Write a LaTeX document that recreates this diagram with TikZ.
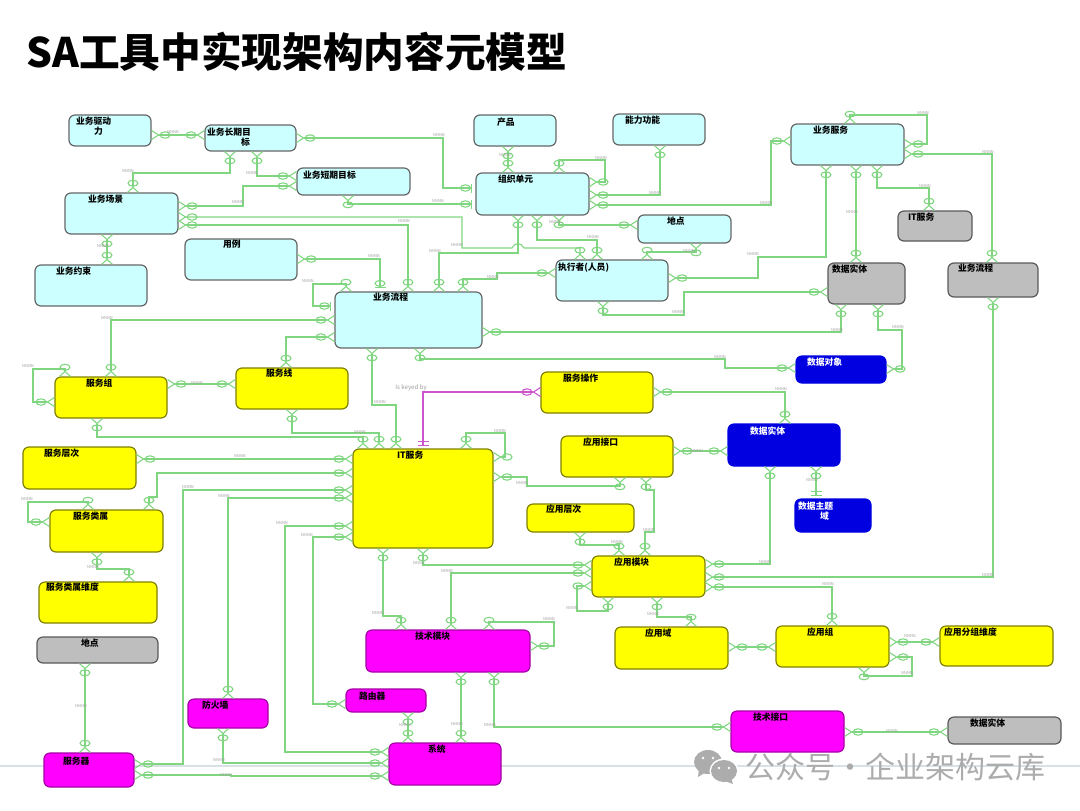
\documentclass[tikz,border=0pt]{standalone}
\usepackage{fontspec}
\setmainfont{Noto Sans CJK SC}
\usepackage{xcolor}
\usetikzlibrary{arrows.meta,positioning}
\newlength{\pxu}
\setlength{\pxu}{0.75pt}
\definecolor{relgreen}{RGB}{128,214,128}
\definecolor{relpink}{RGB}{204,84,204}
\definecolor{entcyan}{RGB}{204,255,255}
\definecolor{entgray}{RGB}{190,190,190}
\definecolor{entblue}{RGB}{0,0,225}
\definecolor{entmag}{RGB}{255,0,255}
\definecolor{entyel}{RGB}{255,255,0}
\definecolor{markgray}{RGB}{172,172,172}
\definecolor{rulegray}{RGB}{214,226,232}
\tikzset{
  % the ellipses are flat in both directions, so there is one tip per direction
  Crow/.tip={Circle[open,length=8.25pt,width=5.6pt,sep=0pt]Straight Barb[reversed,length=5.25pt,width=6.75pt,sep=0pt]},
  vCrow/.tip={Circle[open,length=5.25pt,width=8.25pt,sep=0pt]Straight Barb[reversed,length=3.75pt,width=8.25pt,sep=0pt]},
  OneBar/.tip={Circle[open,length=8.25pt,width=5.6pt,sep=0pt]Bar[width=6.75pt,sep=3pt]},
  vOneBar/.tip={Circle[open,length=5.25pt,width=8.25pt,sep=0pt]Bar[width=8.25pt,sep=3pt]},
  TwoBar/.tip={Bar[width=8.25pt,sep=2.25pt]Bar[width=8.25pt,sep=2.25pt]},
  rel/.style={draw=relgreen,line width=1.1\pxu,{Crow}-{Crow}},
  hv/.style={{Crow}-{vCrow}},
  vh/.style={{vCrow}-{Crow}},
  vv/.style={{vCrow}-{vCrow}},
  ent/.style n args={4}{anchor=north west,inner sep=0pt,outer sep=0pt,rounded corners=6\pxu,
    line width=1.2\pxu,font=\fontsize{6.6}{7.5}\selectfont\bfseries,align=left,
    text width=#1\pxu,minimum width=#1\pxu,minimum height=#2\pxu,
    text height=#4\pxu,text depth={(#2-#4)*\pxu},execute at begin node={\hspace*{#3\pxu}}},
  cyan node/.style={draw=black!60,fill=entcyan,text=black},
  gray node/.style={draw=black!65,fill=entgray,text=black},
  blue node/.style={draw=entblue,fill=entblue,text=white},
  yellow node/.style={draw=black!50!entyel,fill=entyel,text=black},
  magenta node/.style={draw=black!35!entmag,fill=entmag,text=black},
  tag/.style={font=\fontsize{3}{3}\selectfont,text=black!38,inner sep=0pt},
}
\begin{document}
\begin{tikzpicture}[x=0.75pt,y=-0.75pt]
\useasboundingbox (0,0) rectangle (1080,810);
\coordinate (ruleL) at (0,766);
\coordinate (ruleR) at (1080,766);
\draw[line width=1.2\pxu,draw=rulegray] (ruleL) -- (ruleR);
\node[anchor=west,inner sep=0pt,font=\fontsize{30.5}{34}\selectfont\bfseries] (title) at (26,52) {SA工具中实现架构内容元模型};

% top row, light blue
\node[cyan node,ent={82}{31}{7}{9.5}] (drv) at (69,115) {业务驱动\\\hspace*{25\pxu}力};
\node[cyan node,ent={91}{26}{2}{10.5}] (longgoal) at (205,125) {业务长期目\\\hspace*{36\pxu}标};
\node[cyan node,ent={113}{27}{6}{10.5}] (shortgoal) at (297,168) {业务短期目标};
\node[cyan node,ent={113}{41}{23}{9.5}] (scene) at (65,193) {业务场景};
\node[cyan node,ent={112}{41}{21}{9.5}] (limit) at (35,265) {业务约束};
\node[cyan node,ent={112}{41}{38}{8.5}] (usecase) at (185,239) {用例};
\node[cyan node,ent={82}{31}{23}{10}] (product) at (474,115) {产品};
\node[cyan node,ent={92}{31}{12}{9.5}] (ability) at (613,114) {能力功能};
\node[cyan node,ent={113}{42}{22}{9.5}] (org) at (476,173) {组织单元};
\node[cyan node,ent={93}{28}{29}{9}] (site) at (638,215) {地点};
\node[cyan node,ent={112}{41}{2}{10}] (actor) at (556,260) {执行者(人员)};
\node[cyan node,ent={147}{56}{38}{8.5}] (process) at (335,292) {业务流程};
\node[cyan node,ent={113}{41}{22}{9.5}] (bizsvc) at (791,124) {业务服务};
\node[gray node,ent={74}{30}{10}{9}] (itref) at (898,211) {IT服务};
\node[gray node,ent={77}{41}{4}{9.5}] (dataref) at (828,263) {数据实体};
\node[gray node,ent={90}{34}{10}{8.5}] (procref) at (948,263) {业务流程};
\node[blue node,ent={90}{27}{11}{9}] (dataobj) at (796,356) {数据对象};
\node[blue node,ent={112}{42}{22}{10}] (dataent) at (728,424) {数据实体};
\node[blue node,ent={76}{33}{3}{10}] (datadom) at (795,499) {数据主题\\\hspace*{25\pxu}域};

% services and applications, yellow
\node[yellow node,ent={112}{41}{31}{9}] (svcgrp) at (55,377) {服务组};
\node[yellow node,ent={112}{41}{30}{8.5}] (svcline) at (236,368) {服务线};
\node[yellow node,ent={113}{42}{21}{9.5}] (svclevel) at (23,447) {服务层次};
\node[yellow node,ent={113}{42}{23}{9.5}] (svccls) at (50,510) {服务类属};
\node[yellow node,ent={118}{41}{7}{8.5}] (svcdim) at (39,582) {服务类属维度};
\node[yellow node,ent={140}{99}{44}{9.5}] (itsvc) at (353,449) {IT服务};
\node[yellow node,ent={112}{41}{22}{9.5}] (svcop) at (541,372) {服务操作};
\node[yellow node,ent={112}{41}{22}{9.5}] (appif) at (561,436) {应用接口};
\node[yellow node,ent={107}{28}{19}{8.5}] (applev) at (527,504) {应用层次};
\node[yellow node,ent={113}{41}{22}{9.5}] (appmod) at (592,556) {应用模块};
\node[yellow node,ent={113}{42}{30}{9.5}] (appdom) at (615,627) {应用域};
\node[yellow node,ent={113}{41}{31}{9}] (appgrp) at (776,626) {应用组};
\node[yellow node,ent={113}{40}{4}{9}] (appdim) at (940,626) {应用分组维度};

% infrastructure, magenta
\node[gray node,ent={121}{26}{44}{9}] (siteref) at (37,637) {地点};
\node[gray node,ent={113}{27}{22}{9.5}] (dataext) at (948,717) {数据实体};
\node[magenta node,ent={90}{34}{19}{11}] (server) at (44,753) {服务器};
\node[magenta node,ent={80}{29}{14}{9.5}] (fw) at (188,699) {防火墙};
\node[magenta node,ent={80}{23}{13}{10.5}] (router) at (346,689) {路由器};
\node[magenta node,ent={164}{42}{49}{9.5}] (tech) at (366,630) {技术模块};
\node[magenta node,ent={112}{42}{39}{9.5}] (system) at (389,743) {系统};
\node[magenta node,ent={113}{41}{22}{9}] (techif) at (731,711) {技术接口};

% upper connectors
\draw[rel] (drv.east |- 0,135) -- (longgoal.west |- 0,135);
\draw[rel,{Crow}-{OneBar}] (longgoal.east |- 0,138) -- (443,138) -- (443,188) -- (org.west |- 0,188);
\draw[rel,vv] (longgoal.south -| 230,0) -- (230,173) -- (133,173) -- (scene.north -| 133,0);
\draw[rel,vh] (longgoal.south -| 257,0) -- (257,176) -- (shortgoal.west |- 0,176);
\draw[rel] (scene.east |- 0,206) -- (243,206) -- (243,186) -- (shortgoal.west |- 0,186);
\draw[rel,{vCrow}-{OneBar}] (shortgoal.south -| 348,0) -- (348,204) -- (org.west |- 0,204);
\draw[rel,hv] (scene.east |- 0,217) -- (462,217) -- (462,248) -- (512,248) .. controls (515,242) and (521,242) .. (524,248) -- (580,248) -- (actor.north -| 580,0);
\draw[rel,hv] (scene.east |- 0,225) -- (408,225) -- (process.north -| 408,0);
\draw[rel,{Crow}-{vOneBar}] (usecase.east |- 0,259) -- (380,259) -- (process.north -| 380,0);
\draw[rel,vv] (process.north -| 439,0) -- (439,253) -- (518,253) -- (org.south -| 518,0);
\draw[rel,vh] (process.north -| 463,0) -- (463,279) -- (497,279) -- (497,273) -- (actor.west |- 0,273);
\draw[rel,{vCrow}-{OneBar}] (process.north -| 346,0) -- (346,284) -- (313,284) -- (313,306) -- (process.west |- 0,306);
\draw[rel,hv] (process.west |- 0,320) -- (111,320) -- (svcgrp.north -| 111,0);
\draw[rel,hv] (process.west |- 0,337) -- (286,337) -- (svcline.north -| 286,0);
\draw[rel,hv] (process.east |- 0,332) -- (841,332) -- (dataref.south -| 841,0);
\draw[rel,vh] (process.south -| 420,0) -- (420,359) -- (725,359) -- (725,368) -- (dataobj.west |- 0,368);
\draw[rel,vv] (process.south -| 372,0) -- (372,405) -- (396,405) -- (itsvc.north -| 396,0);
\draw[rel,vv] (scene.south -| 107,0) -- (limit.north -| 107,0);
\draw[rel,vv] (org.south -| 537,0) -- (537,240) -- (597,240) -- (actor.north -| 597,0);
\draw[rel,vh] (org.south -| 559,0) -- (559,225) -- (site.west |- 0,225);
\draw[rel,vv] (product.south -| 508,0) -- (org.north -| 508,0);
\draw[rel,hv] (org.east |- 0,195) -- (660,195) -- (ability.south -| 660,0);
\draw[rel,hv] (org.east |- 0,182) -- (605,182) -- (605,160) -- (559,160) -- (org.north -| 559,0);
\draw[rel] (org.east |- 0,205) -- (771,205) -- (771,141) -- (bizsvc.west |- 0,141);
\draw[rel,vv] (site.south -| 696,0) -- (696,252) -- (647,252) -- (actor.north -| 647,0);
\draw[rel,hv] (actor.east |- 0,278) -- (758,278) -- (758,257) -- (826,257) -- (bizsvc.south -| 826,0);
\draw[rel,vh] (actor.south -| 603,0) -- (603,315) -- (684,315) -- (684,292) -- (dataref.west |- 0,292);
\draw[rel,vh] (bizsvc.north -| 850,0) -- (850,115) -- (927,115) -- (927,144) -- (bizsvc.east |- 0,144);
\draw[rel,hv] (bizsvc.east |- 0,154) -- (992,154) -- (procref.north -| 992,0);
\draw[rel,vv] (bizsvc.south -| 856,0) -- (dataref.north -| 856,0);
\draw[rel,vv] (bizsvc.south -| 877,0) -- (877,188) -- (929,188) -- (itref.north -| 929,0);
\draw[rel,vh] (dataref.south -| 878,0) -- (878,330) -- (902,330) -- (902,369) -- (dataobj.east |- 0,369);

% around the IT service
\draw[rel,draw=relpink,{Crow}-{TwoBar}] (svcop.west |- 0,392) -- (423,392) -- (itsvc.north -| 423,0);
\draw[rel,vh] (itsvc.north -| 466,0) -- (466,433) -- (505,433) -- (505,457) -- (itsvc.east |- 0,457);
\draw[rel,hv] (itsvc.east |- 0,477) -- (527,477) -- (527,486) -- (620,486) -- (appif.south -| 620,0);
\draw[rel,vv] (appif.south -| 646,0) -- (646,490) -- (654,490) -- (654,532) -- (645,532) -- (appmod.north -| 645,0);
\draw[rel,vv] (applev.south -| 580,0) -- (580,545) -- (619,545) -- (appmod.north -| 619,0);
\draw[rel,vh] (itsvc.south -| 423,0) -- (423,565) -- (appmod.west |- 0,565);
\draw[rel,vv] (itsvc.south -| 383,0) -- (383,616) -- (401,616) -- (tech.north -| 401,0);
\draw[rel,vh] (tech.north -| 451,0) -- (451,573) -- (appmod.west |- 0,573);
\draw[rel,hv] (appmod.west |- 0,586) -- (577,586) -- (577,611) -- (608,611) -- (appmod.south -| 608,0);
\draw[rel,vv] (appmod.south -| 657,0) -- (657,617) -- (691,617) -- (appdom.north -| 691,0);
\draw[rel,hv] (appmod.east |- 0,564) -- (770,564) -- (dataent.south -| 770,0);
\draw[rel,hv] (appmod.east |- 0,577) -- (993,577) -- (procref.south -| 993,0);
\draw[rel,hv] (appmod.east |- 0,587) -- (832,587) -- (appgrp.north -| 832,0);
\draw[rel] (appdom.east |- 0,647) -- (appgrp.west |- 0,647);
\draw[rel] (appgrp.east |- 0,642) -- (appdim.west |- 0,642);
\draw[rel,hv] (appgrp.east |- 0,657) -- (912,657) -- (912,676) -- (864,676) -- (appgrp.south -| 864,0);
\draw[rel] (appif.east |- 0,451) -- (dataent.west |- 0,451);
\draw[rel,hv] (svcop.east |- 0,392) -- (785,392) -- (dataent.north -| 785,0);
\draw[rel,{vCrow}-{TwoBar}] (dataent.south -| 816,0) -- (datadom.north -| 816,0);

% left column and lower part
\draw[rel,vh] (svcgrp.north -| 65,0) -- (65,369) -- (33,369) -- (33,402) -- (svcgrp.west |- 0,402);
\draw[rel] (svcgrp.east |- 0,384) -- (svcline.west |- 0,384);
\draw[rel,vv] (svcgrp.south -| 97,0) -- (97,437) -- (363,437) -- (itsvc.north -| 363,0);
\draw[rel,vv] (svcline.south -| 292,0) -- (292,433) -- (379,433) -- (itsvc.north -| 379,0);
\draw[rel] (svclevel.east |- 0,459) -- (itsvc.west |- 0,459);
\draw[rel,vh] (svccls.north -| 149,0) -- (149,497) -- (157,497) -- (157,473) -- (itsvc.west |- 0,473);
\draw[rel] (server.east |- 0,764) -- (183,764) -- (183,490) -- (itsvc.west |- 0,490);
\draw[rel,vh] (fw.north -| 228,0) -- (228,498) -- (itsvc.west |- 0,498);
\draw[rel] (system.west |- 0,752) -- (285,752) -- (285,526) -- (itsvc.west |- 0,526);
\draw[rel] (router.west |- 0,704) -- (313,704) -- (313,537) -- (itsvc.west |- 0,537);
\draw[rel,vh] (fw.south -| 223,0) -- (223,763) -- (system.west |- 0,763);
\draw[rel] (server.east |- 0,775) -- (231,775) -- (231,776) -- (system.west |- 0,776);
\draw[rel,vv] (siteref.south -| 85,0) -- (server.north -| 85,0);
\draw[rel,vh] (svccls.north -| 88,0) -- (88,502) -- (28,502) -- (28,522) -- (svccls.west |- 0,522);
\draw[rel,vv] (svccls.south -| 97,0) -- (97,569) -- (129,569) -- (svcdim.north -| 129,0);
\draw[rel,vh] (tech.north -| 489,0) -- (489,622) -- (554,622) -- (554,646) -- (tech.east |- 0,646);
\draw[rel,vv] (tech.south -| 461,0) -- (system.north -| 461,0);
\draw[rel,vh] (tech.south -| 494,0) -- (494,727) -- (techif.west |- 0,727);
\draw[rel,vv] (router.south -| 408,0) -- (system.north -| 408,0);
\draw[rel] (techif.east |- 0,732) -- (dataext.west |- 0,732);

\node[tag,font=\fontsize{4.6}{5}\selectfont] (keyed) at (411,388) {Is keyed by};
\foreach \tx/\ty [count=\i] in {128/171,252/173,238/202,103/246,308/281,107/318,173/132,439/135,438/201,404/221,457/245,435/251,374/256,493/277,593/237,601/158,655/193,678/312,689/251,720/357,505/155,555/222,923/113,988/152,766/203,753/254,852/212,925/186,837/330,898/327,781/389,28/366,197/383,240/456,188/487,224/496,282/523,307/535,27/499,93/567,380/402,360/432,500/431,522/483,649/530,617/542,419/563,447/571,572/608,378/613,653/614,812/480,765/562,988/575,828/584,910/636,907/673,697/451,81/706,219/760,226/775,549/619,405/725,457/724,490/725,892/731}
  \node[tag] (tag\i) at (\tx,\ty) {NNNN};

% watermark
\fill[markgray] (708,762) ellipse [x radius=14,y radius=12];
\fill[markgray] (699,769) -- (698,777) -- (706,772) -- cycle;
\fill[white] (724,771) ellipse [x radius=14.5,y radius=12.5];
\fill[markgray] (724,771) ellipse [x radius=13,y radius=11];
\fill[markgray] (731,778) -- (733,784) -- (725,781) -- cycle;
\foreach \ex/\ey/\ec in {703/758/white,713/758/white,719/768/white,729/768/white}
  \fill[\ec] (\ex,\ey) circle [radius=1.4];
\node[anchor=west,inner sep=0pt,text=markgray,font=\fontsize{22.5}{26}\selectfont] (mark) at (745,767) {公众号·企业架构云库};
\end{tikzpicture}
\end{document}
